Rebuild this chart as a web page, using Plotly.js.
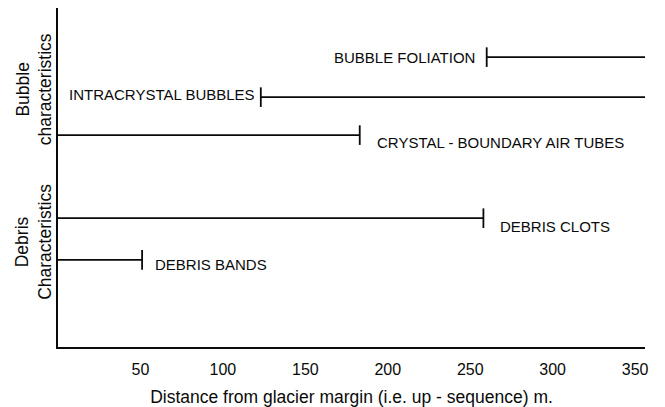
<!DOCTYPE html>
<html>
<head>
<meta charset="utf-8">
<script src="https://cdn.plot.ly/plotly-3.0.1.min.js"></script>
<style>html,body{margin:0;padding:0;background:#fff;}#chart{width:665px;height:407px;}</style>
</head>
<body>
<div id="chart"></div>
<script>
// Data
const features = ['BUBBLE FOLIATION', 'INTRACRYSTAL BUBBLES', 'CRYSTAL - BOUNDARY AIR TUBES', 'DEBRIS CLOTS', 'DEBRIS BANDS'];
const rowLevel = [8.55, 7.37, 6.25, 3.8, 2.57];
const startDist = [260, 123, 0, 0, 0];
const endDist = [356, 356, 183, 258, 51];
const capSide = ['start', 'start', 'end', 'end', 'end'];
const xTicks = [50, 100, 150, 200, 250, 300, 350];
const groupLabels = ['Bubble<br>characteristics', 'Debris<br>Characteristics'];
const groupCentres = [7.6, 3.1];

// Styling
const ink = '#0a0a0a';
const fam = 'Liberation Sans, Arial, Helvetica, sans-serif';
const labelFont = {family: fam, size: 15, color: ink};
const labelGap = [10, 4, 15, 15, 11];
const labelYShift = [0, 3, -7, -8, -5];

const traces = [];
const annotations = [];
features.forEach((name, i) => {
  traces.push({
    type: 'scatter', mode: 'lines',
    x: [startDist[i], endDist[i]], y: [rowLevel[i], rowLevel[i]],
    line: {color: ink, width: 1.8}, hoverinfo: 'skip', showlegend: false, cliponaxis: false
  });
  const capX = capSide[i] === 'start' ? startDist[i] : endDist[i];
  traces.push({
    type: 'scatter', mode: 'markers',
    x: [capX], y: [rowLevel[i]],
    marker: {symbol: 'line-ns', size: 14, line: {color: ink, width: 1.8}},
    hoverinfo: 'skip', showlegend: false, cliponaxis: false
  });
  const left = capSide[i] === 'start';
  annotations.push({
    x: capX, y: rowLevel[i], xref: 'x', yref: 'y',
    text: name, showarrow: false,
    xanchor: left ? 'right' : 'left', yanchor: 'middle',
    xshift: left ? -labelGap[i] : labelGap[i], yshift: labelYShift[i],
    font: labelFont
  });
});
groupLabels.forEach((t, i) => {
  annotations.push({
    x: -0.041, xref: 'paper', y: groupCentres[i], yref: 'y',
    text: t, showarrow: false, textangle: -90,
    xanchor: 'center', yanchor: 'middle',
    font: {family: fam, size: 17.5, color: ink}
  });
});

const layout = {
  width: 665, height: 407,
  margin: {l: 58, r: 20, t: 8, b: 60},
  paper_bgcolor: '#fff', plot_bgcolor: '#fff',
  showlegend: false,
  xaxis: {
    range: [0, 356], tickvals: xTicks, ticktext: xTicks.map(String),
    showgrid: false, zeroline: false, showline: true, linecolor: ink, linewidth: 2,
    ticks: '', ticklabelstandoff: 7,
    tickfont: {family: fam, size: 16, color: ink},
    title: {text: 'Distance from glacier margin (i.e. up - sequence) m.', standoff: 14,
            font: {family: fam, size: 17.5, color: ink}}
  },
  yaxis: {
    range: [0, 10], showticklabels: false, ticks: '',
    showgrid: false, zeroline: false, showline: true, linecolor: ink, linewidth: 2
  },
  annotations: annotations
};

Plotly.newPlot('chart', traces, layout, {displayModeBar: false, staticPlot: true});
</script>
</body>
</html>
